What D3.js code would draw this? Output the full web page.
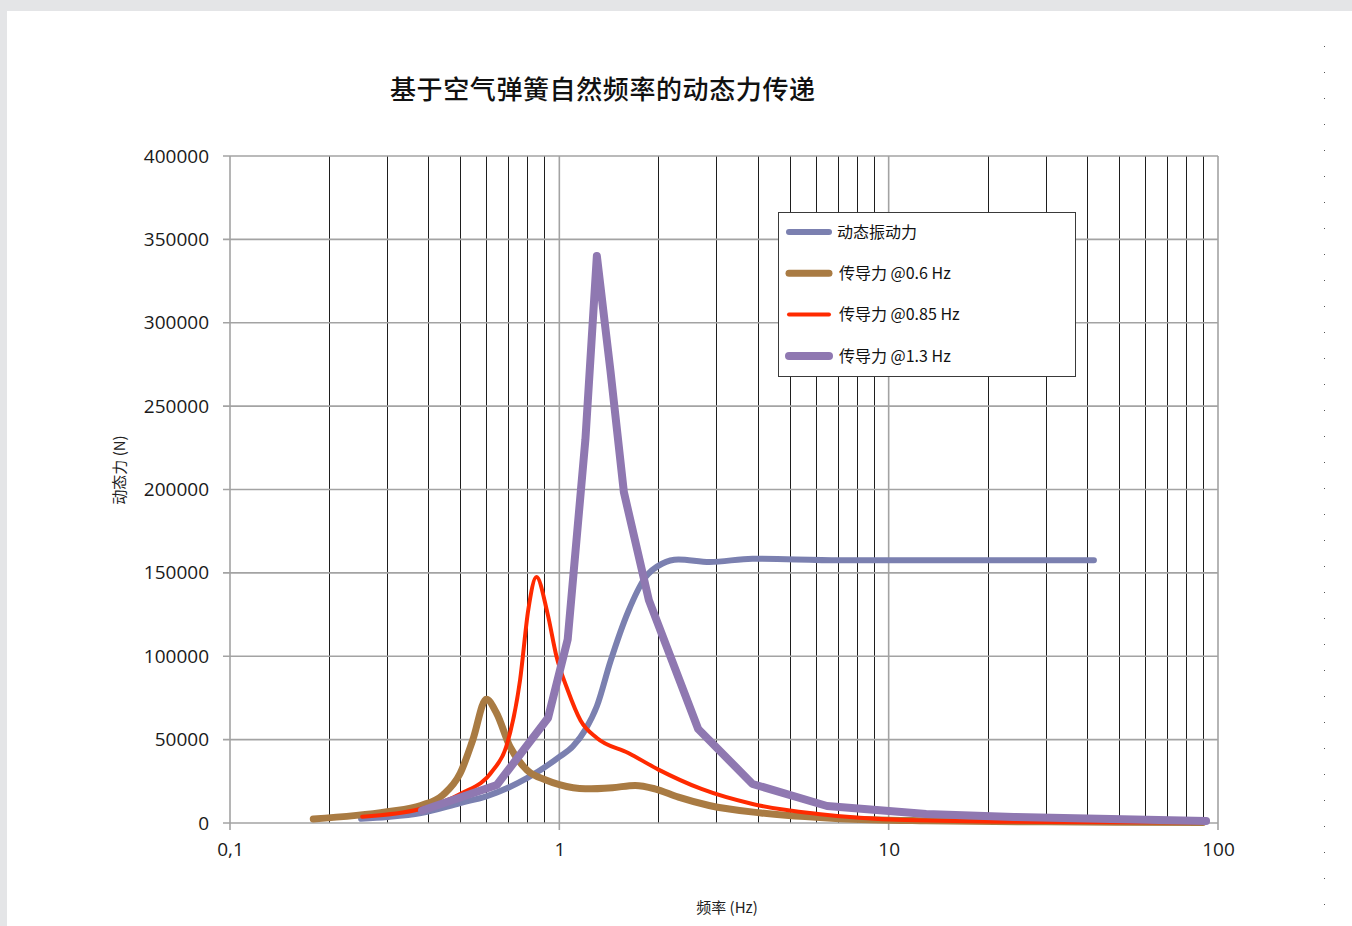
<!DOCTYPE html>
<html>
<head>
<meta charset="utf-8">
<script src="https://cdn.jsdelivr.net/npm/d3@7"></script>
<style>
  body { margin: 0; background: #e4e5e7; }
  svg { display: block; }
</style>
</head>
<body>
<svg id="chart" width="1352" height="926"></svg>
<script>
const chartTitle = "基于空气弹簧自然频率的动态力传递";
const xTitle = "频率 (Hz)";
const yTitle = "动态力 (N)";

const xTicks = [0.1, 1, 10, 100];
const xTickLabels = ["0,1", "1", "10", "100"];
const yTicks = [0, 50000, 100000, 150000, 200000, 250000, 300000, 350000, 400000];

const seriesNames = ["动态振动力", "传导力 @0.6 Hz", "传导力 @0.85 Hz", "传导力 @1.3 Hz"];

// 动态振动力
const baseFreq = [0.25, 0.3, 0.38, 0.5, 0.6, 0.8, 1.0, 1.1, 1.2, 1.3, 1.43, 1.62, 1.82, 2.05, 2.3, 2.86, 3.86, 7.1, 42];
const baseForce = [2500, 3600, 6000, 12000, 16000, 27000, 39600, 46000, 56000, 70000, 97000, 127000, 147000, 155500, 158000, 156500, 158500, 157500, 157500];

// 传导力 @0.6 Hz
const f06Freq = [0.179, 0.3, 0.38, 0.443, 0.5, 0.546, 0.6, 0.645, 0.708, 0.797, 0.91, 1.0, 1.2, 1.45, 1.7, 1.95, 2.3, 2.85, 4.1, 7.1, 13, 30, 90];
const f06Force = [2400, 6800, 10500, 16800, 29800, 49800, 74200, 65800, 45800, 31800, 25800, 23000, 20500, 21200, 22500, 20500, 15500, 10500, 6000, 2600, 1300, 700, 300];

// 传导力 @0.85 Hz
const f085Freq = [0.252, 0.378, 0.5, 0.63, 0.69, 0.76, 0.805, 0.852, 0.92, 0.98, 1.06, 1.16, 1.3, 1.62, 2.0, 2.7, 3.86, 6.1, 11.2, 30, 90];
const f085Force = [3800, 8400, 17400, 31800, 45800, 85800, 128000, 147500, 126000, 100000, 79800, 61500, 51000, 42000, 32000, 20400, 11400, 5400, 1800, 600, 300];

// 传导力 @1.3 Hz
const f13Freq = [0.383, 0.646, 0.924, 1.06, 1.2, 1.3, 1.43, 1.57, 1.87, 2.64, 3.86, 6.5, 13, 24, 92];
const f13Force = [7500, 22800, 63000, 110000, 230000, 340000, 271000, 198500, 133700, 56400, 23400, 10200, 5400, 3600, 1200];

const seriesColors = ["#7b80b0", "#a97b43", "#ff2a00", "#8f78b1"];
const seriesWidths = [6, 7, 4, 8];
const seriesSmooth = [true, true, true, false];

const series = [
    [baseFreq, baseForce],
    [f06Freq, f06Force],
    [f085Freq, f085Force],
    [f13Freq, f13Force],
].map(([fs, vs], i) => ({
    name: seriesNames[i],
    color: seriesColors[i],
    width: seriesWidths[i],
    smooth: seriesSmooth[i],
    points: fs.map((f, j) => ({ f: f, v: vs[j] })),
}));

const gridColor = "#a3a3a3";
const minorColor = "#1e1e1e";
const numFont = "'Open Sans', 'DejaVu Sans', sans-serif";
const cjkFont = "'Noto Sans CJK SC', 'Noto Sans', sans-serif";

const svg = d3.select("#chart");

// page frame
svg.append("rect").attr("width", 1352).attr("height", 926).attr("fill", "#e4e5e7");
svg.append("rect").attr("x", 7).attr("y", 11).attr("width", 1345).attr("height", 915).attr("fill", "#ffffff");
svg.append("line")
    .attr("x1", 1324.5).attr("x2", 1324.5).attr("y1", 46).attr("y2", 926)
    .attr("stroke", "#555").attr("stroke-width", 1)
    .attr("stroke-dasharray", "1,25");

const x = d3.scaleLog().domain([0.1, 100]).range([230, 1218]);
const y = d3.scaleLinear().domain([0, 400000]).range([823, 156]);

// minor vertical grid (2..9 in each decade)
const minorTicks = [];
[0.1, 1, 10].forEach((d) => {
    for (let k = 2; k <= 9; k++) minorTicks.push(d * k);
});

const grid = svg.append("g").attr("class", "grid");

grid.selectAll("line.minor")
    .data(minorTicks)
    .join("line")
    .attr("class", "minor")
    .attr("x1", (d) => Math.round(x(d)) + 0.5)
    .attr("x2", (d) => Math.round(x(d)) + 0.5)
    .attr("y1", y(400000))
    .attr("y2", y(0))
    .attr("stroke", minorColor)
    .attr("stroke-width", 1);

grid.selectAll("line.hmajor")
    .data(yTicks)
    .join("line")
    .attr("class", "hmajor")
    .attr("x1", 223)
    .attr("x2", 1218)
    .attr("y1", (d) => y(d))
    .attr("y2", (d) => y(d))
    .attr("stroke", gridColor)
    .attr("stroke-width", 1.6);

grid.selectAll("line.vmajor")
    .data(xTicks)
    .join("line")
    .attr("class", "vmajor")
    .attr("x1", (d) => x(d))
    .attr("x2", (d) => x(d))
    .attr("y1", y(400000))
    .attr("y2", y(0) + 7)
    .attr("stroke", gridColor)
    .attr("stroke-width", 1.6);

// axis labels via d3 axes
const yAxis = svg.append("g")
    .attr("transform", "translate(230,0)")
    .call(d3.axisLeft(y).tickValues(yTicks).tickSize(0).tickPadding(21).tickFormat(d3.format("d")));
yAxis.select(".domain").remove();
yAxis.selectAll("text")
    .attr("font-family", numFont)
    .attr("font-size", "19px")
    .attr("fill", "#1a1a1a");

const xAxis = svg.append("g")
    .attr("transform", "translate(0,823)")
    .call(d3.axisBottom(x).tickValues(xTicks).tickSize(0).tickPadding(20)
        .tickFormat((d, i) => xTickLabels[i]));
xAxis.select(".domain").remove();
xAxis.selectAll("text")
    .attr("font-family", numFont)
    .attr("font-size", "19px")
    .attr("fill", "#1a1a1a");

// series
const plot = svg.append("g").attr("class", "plot");
series.forEach((s) => {
    const line = d3.line()
        .x((d) => x(d.f))
        .y((d) => y(d.v))
        .curve(s.smooth ? d3.curveMonotoneX : d3.curveLinear);
    plot.append("path")
        .datum(s.points)
        .attr("d", line)
        .attr("fill", "none")
        .attr("stroke", s.color)
        .attr("stroke-width", s.width)
        .attr("stroke-linecap", "round")
        .attr("stroke-linejoin", "round");
});

// title
svg.append("text")
    .attr("x", 390)
    .attr("y", 99)
    .attr("font-family", cjkFont)
    .attr("font-size", "26px")
    .attr("font-weight", "500")
    .attr("textLength", 425)
    .attr("lengthAdjust", "spacing")
    .attr("fill", "#111")
    .text(chartTitle);

svg.append("text")
    .attr("x", 727)
    .attr("y", 913)
    .attr("text-anchor", "middle")
    .attr("font-family", cjkFont)
    .attr("font-size", "15px")
    .attr("fill", "#222")
    .text(xTitle);

svg.append("text")
    .attr("transform", "translate(125,470) rotate(-90)")
    .attr("text-anchor", "middle")
    .attr("font-family", cjkFont)
    .attr("font-size", "15px")
    .attr("fill", "#222")
    .text(yTitle);

// legend
const legend = svg.append("g").attr("transform", "translate(778,212)");
legend.append("rect")
    .attr("x", 0.5).attr("y", 0.5)
    .attr("width", 297).attr("height", 164)
    .attr("fill", "#fff")
    .attr("stroke", "#3a3a3a")
    .attr("stroke-width", 1);

const rows = legend.selectAll("g.row")
    .data(series)
    .join("g")
    .attr("class", "row")
    .attr("transform", (d, i) => `translate(0,${20 + i * 41.3})`);

rows.append("line")
    .attr("x1", 11).attr("x2", 51)
    .attr("y1", 0).attr("y2", 0)
    .attr("stroke", (d) => d.color)
    .attr("stroke-width", (d) => d.width)
    .attr("stroke-linecap", "round");

rows.append("text")
    .attr("x", (d, i) => (i == 0 ? 59 : 61))
    .attr("y", 0)
    .attr("dy", "0.36em")
    .attr("font-family", cjkFont)
    .attr("font-size", "16px")
    .attr("fill", "#111")
    .text((d) => d.name);
</script>
</body>
</html>
